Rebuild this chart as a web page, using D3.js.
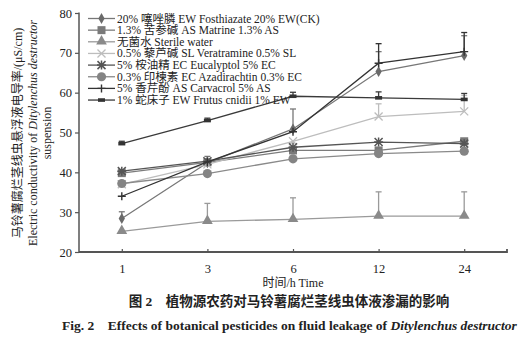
<!DOCTYPE html>
<html><head><meta charset="utf-8">
<script src="https://cdn.jsdelivr.net/npm/d3@7"></script>
<style>
body{margin:0;background:#fff;}
svg{display:block;}
text{font-family:"Liberation Serif","Noto Sans CJK SC",serif;fill:#222;}
</style></head><body>
<svg id="c" width="532" height="337"></svg>
<script>
const times = ["1","3","6","12","24"];
const yTicks = [20,30,40,50,60,70,80];
const names = [
  "20% 噻唑膦 EW Fosthiazate 20% EW(CK)",
  "1.3% 苦参碱 AS Matrine 1.3% AS",
  "无菌水 Sterile water",
  "0.5% 藜芦碱 SL Veratramine 0.5% SL",
  "5% 桉油精 EC Eucalyptol 5% EC",
  "0.3% 印楝素 EC Azadirachtin 0.3% EC",
  "5% 香芹酚 AS Carvacrol 5% AS",
  "1% 蛇床子 EW Frutus cnidii 1% EW"
];
const fosthiazate  = [28.4, 42.4, 50.9, 65.3, 69.3];
const matrine      = [39.8, 42.5, 45.5, 45.5, 47.8];
const sterile      = [25.2, 27.7, 28.2, 29.0, 29.0];
const veratramine  = [37.0, 42.0, 47.8, 54.0, 55.3];
const eucalyptol   = [40.3, 42.8, 46.3, 47.6, 47.2];
const azadirachtin = [37.2, 39.7, 43.4, 44.7, 45.3];
const carvacrol    = [34.0, 42.6, 50.2, 67.4, 70.3];
const cnidii       = [47.2, 53.0, 59.1, 58.7, 58.3];

const errFosthiazate  = [1.7, 1.6, 5.0, 5.0, 5.0];
const errMatrine      = [0, 0, 0, 0, 0];
const errSterile      = [0, 4.5, 5.4, 6.1, 6.1];
const errVeratramine  = [0, 0, 0, 3.2, 4.0];
const errEucalyptol   = [0, 0, 0, 0, 0];
const errAzadirachtin = [0, 0, 0, 0, 0];
const errCarvacrol    = [0, 0, 0, 4.9, 4.8];
const errCnidii       = [0.6, 0.6, 1.0, 1.5, 1.5];

const seriesVals = [fosthiazate, matrine, sterile, veratramine, eucalyptol, azadirachtin, carvacrol, cnidii];
const seriesErr = [errFosthiazate, errMatrine, errSterile, errVeratramine, errEucalyptol, errAzadirachtin, errCarvacrol, errCnidii];
const styles = [
  {line:"#777", fill:"#6a6a6a", m:"diamond"},
  {line:"#7c7c7c", fill:"#7a7a7a", m:"square"},
  {line:"#9a9a9a", fill:"#8a8a8a", m:"triangle"},
  {line:"#bdbdbd", fill:"#bdbdbd", m:"x"},
  {line:"#555", fill:"#555", m:"star"},
  {line:"#8a8a8a", fill:"#848484", m:"circle"},
  {line:"#333", fill:"#333", m:"plus"},
  {line:"#3a3a3a", fill:"#333", m:"dash"}
];

const svg = d3.select("#c");
const x = d3.scalePoint().domain(times).range([79,507]).padding(0.5);
const y = d3.scaleLinear().domain([20,80]).range([252,13]);

function marker(g, type, cx, cy, st){
  if(type==="diamond"){
    g.append("path").attr("d",d3.symbol(d3.symbolDiamond,34)()).attr("transform",`translate(${cx},${cy})`).attr("fill",st.fill);
  } else if(type==="square"){
    g.append("rect").attr("x",cx-4).attr("y",cy-4).attr("width",8).attr("height",8).attr("fill",st.fill);
  } else if(type==="triangle"){
    g.append("path").attr("d",d3.symbol(d3.symbolTriangle,50)()).attr("transform",`translate(${cx},${cy-0.5})`).attr("fill",st.fill);
  } else if(type==="circle"){
    g.append("circle").attr("cx",cx).attr("cy",cy).attr("r",4.6).attr("fill",st.fill);
  } else if(type==="x"){
    g.append("path").attr("d",`M${cx-4},${cy-4}L${cx+4},${cy+4}M${cx-4},${cy+4}L${cx+4},${cy-4}`).attr("stroke",st.fill).attr("stroke-width",1.3).attr("fill","none");
  } else if(type==="star"){
    g.append("path").attr("d",`M${cx-4},${cy-4}L${cx+4},${cy+4}M${cx-4},${cy+4}L${cx+4},${cy-4}M${cx},${cy-4.5}L${cx},${cy+4.5}M${cx-4.5},${cy}L${cx+4.5},${cy}`).attr("stroke",st.fill).attr("stroke-width",1.5).attr("fill","none");
  } else if(type==="plus"){
    g.append("path").attr("d",`M${cx-4},${cy}L${cx+4},${cy}M${cx},${cy-4}L${cx},${cy+4}`).attr("stroke",st.fill).attr("stroke-width",1.4).attr("fill","none");
  } else if(type==="dash"){
    g.append("rect").attr("x",cx-3.5).attr("y",cy-1.8).attr("width",7).attr("height",3.6).attr("fill",st.fill);
  }
}

// axes
const gy = svg.append("g").attr("transform","translate(79,0)")
  .call(d3.axisLeft(y).tickValues(yTicks).tickSize(4).tickPadding(3));
gy.select(".domain").attr("stroke","#555").attr("stroke-width",1.5).attr("d","M0,12.5V252");
gy.selectAll(".tick line").attr("stroke","#555").attr("stroke-width",1.2);
gy.selectAll(".tick text").attr("font-size",12.5).attr("font-family","Liberation Serif").attr("fill","#222");

const gx = svg.append("g").attr("transform","translate(0,252)")
  .call(d3.axisBottom(x).tickSize(-3).tickPadding(12));
gx.select(".domain").attr("stroke","#555").attr("stroke-width",1.8).attr("d","M79,0H507V-3");
gx.selectAll(".tick line").attr("stroke","#555").attr("stroke-width",1.2);
gx.selectAll(".tick text").attr("font-size",12.5).attr("font-family","Liberation Serif").attr("fill","#222");

// series
const line = d3.line().x((d,i)=>x(times[i])).y(d=>y(d));
seriesVals.forEach((vals,s)=>{
  const st = styles[s];
  const g = svg.append("g");
  vals.forEach((v,i)=>{
    const e = seriesErr[s][i];
    if(e>0){
      const cx = x(times[i]);
      g.append("line").attr("x1",cx).attr("x2",cx).attr("y1",y(v)).attr("y2",y(v+e)).attr("stroke",st.line).attr("stroke-width",1.3);
      g.append("line").attr("x1",cx-3).attr("x2",cx+3).attr("y1",y(v+e)).attr("y2",y(v+e)).attr("stroke",st.line).attr("stroke-width",1.3);
    }
  });
  g.append("path").attr("d",line(vals)).attr("fill","none").attr("stroke",st.line).attr("stroke-width",1.3);
  vals.forEach((v,i)=>marker(g, st.m, x(times[i]), y(v), st));
});

// legend
const lg = svg.append("g");
names.forEach((n,i)=>{
  const yy = 18.5 + i*11.65;
  const st = styles[i];
  lg.append("line").attr("x1",88).attr("x2",115).attr("y1",yy).attr("y2",yy).attr("stroke",st.line).attr("stroke-width",1.3);
  marker(lg, st.m, 101.5, yy, st);
  lg.append("text").attr("x",117).attr("y",yy+4).attr("font-size",11.5).text(n);
});

// y title
const yt = svg.append("g").attr("transform","translate(0,133) rotate(-90)");
yt.append("text").attr("x",0).attr("y",22).attr("text-anchor","middle").attr("font-size",12)
  .text("马铃薯腐烂茎线虫悬浮液电导率/(μS/cm)");
const t2 = yt.append("text").attr("x",0).attr("y",37).attr("text-anchor","middle").attr("font-size",12);
t2.append("tspan").text("Electric conductivity of ");
t2.append("tspan").attr("font-style","italic").text("Ditylenchus destructor");
yt.append("text").attr("x",0).attr("y",51).attr("text-anchor","middle").attr("font-size",12).text("suspension");

// x title
svg.append("text").attr("x",293).attr("y",287).attr("text-anchor","middle").attr("font-size",12).text("时间/h Time");

// captions
svg.append("text").attr("x",289).attr("y",306).attr("text-anchor","middle").attr("font-size",13.5).attr("font-weight","bold")
  .attr("font-family","Noto Sans CJK SC").style("white-space","pre").text("图 2　植物源农药对马铃薯腐烂茎线虫体液渗漏的影响");
const c2 = svg.append("text").attr("x",62).attr("y",330).attr("font-size",13.5).attr("font-weight","bold").style("white-space","pre");
c2.append("tspan").text("Fig. 2    Effects of botanical pesticides on fluid leakage of ");
c2.append("tspan").attr("font-style","italic").text("Ditylenchus destructor");
</script>
</body></html>
